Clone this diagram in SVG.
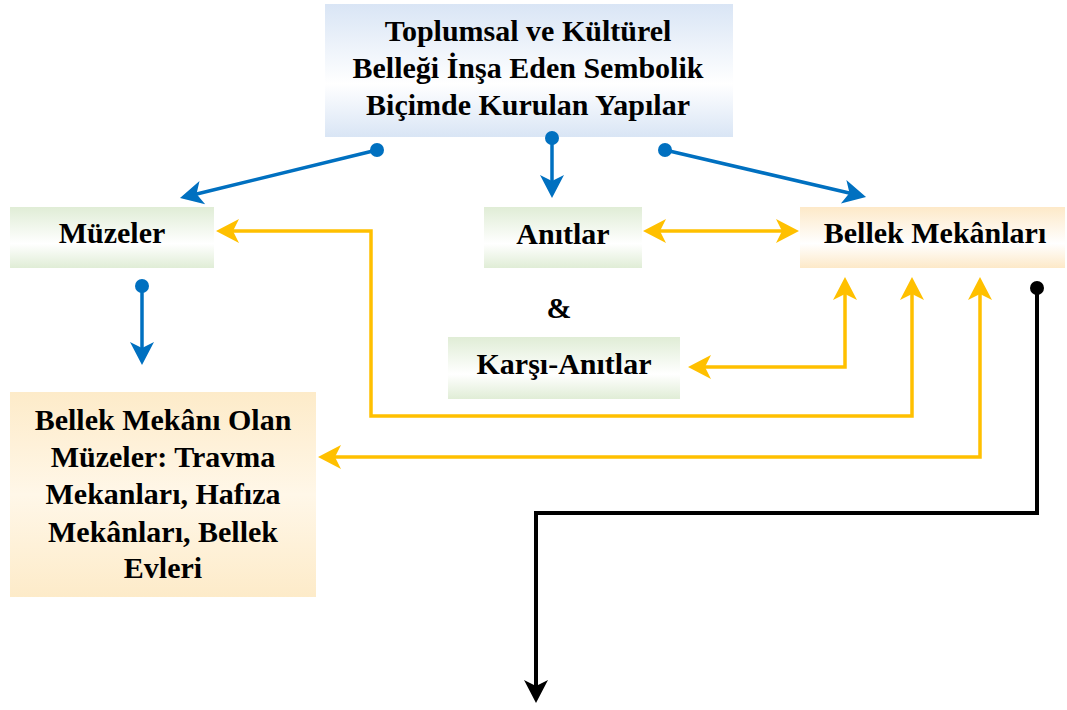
<svg xmlns="http://www.w3.org/2000/svg" width="1067" height="710" viewBox="0 0 1067 710">
<style>
text{font-family:"Liberation Serif","Times New Roman",serif;font-weight:bold;font-size:30px;fill:#000;text-anchor:middle}
.blue{stroke:#0070c0;stroke-width:3.5;fill:none}
.yel{stroke:#ffc000;stroke-width:3.5;fill:none}
.blk{stroke:#000;stroke-width:4;fill:none}
</style>
<defs>
<linearGradient id="gBlue" x1="0" y1="0" x2="0" y2="1">
<stop offset="0" stop-color="#d9e5f5"/><stop offset="0.6" stop-color="#ffffff"/><stop offset="1" stop-color="#d9e5f5"/>
</linearGradient>
<linearGradient id="gGreen" x1="0" y1="0" x2="0" y2="1">
<stop offset="0" stop-color="#e0edd6"/><stop offset="0.6" stop-color="#ffffff"/><stop offset="1" stop-color="#e0edd6"/>
</linearGradient>
<linearGradient id="gPeach" x1="0" y1="0" x2="0" y2="1">
<stop offset="0" stop-color="#fde9c8"/><stop offset="0.6" stop-color="#ffffff"/><stop offset="1" stop-color="#fde9c8"/>
</linearGradient>
<linearGradient id="gPeach2" x1="0" y1="0" x2="0" y2="1">
<stop offset="0" stop-color="#fdebc9"/><stop offset="0.5" stop-color="#fff7e8"/><stop offset="1" stop-color="#fdebc9"/>
</linearGradient>
<marker id="aBlue" markerUnits="userSpaceOnUse" orient="auto-start-reverse" refX="-14" refY="0" markerWidth="30" markerHeight="30" overflow="visible">
<path d="M0,0 L-23,-12 L-17,0 L-23,12 Z" fill="#0070c0"/>
</marker>
<marker id="aYel" markerUnits="userSpaceOnUse" orient="auto-start-reverse" refX="-14" refY="0" markerWidth="30" markerHeight="30" overflow="visible">
<path d="M0,0 L-23,-12 L-17,0 L-23,12 Z" fill="#ffc000"/>
</marker>
<marker id="aBlk" markerUnits="userSpaceOnUse" orient="auto-start-reverse" refX="-14" refY="0" markerWidth="30" markerHeight="30" overflow="visible">
<path d="M0,0 L-23,-12 L-17,0 L-23,12 Z" fill="#000"/>
</marker>
</defs>

<g id="top">
<rect x="325" y="4" width="408" height="133" fill="url(#gBlue)"/>
<text x="528" y="41">Toplumsal ve Kültürel</text>
<text x="528" y="78">Belleği İnşa Eden Sembolik</text>
<text x="528" y="115">Biçimde Kurulan Yapılar</text>
</g>
<g id="muzeler">
<rect x="10" y="207" width="204" height="61" fill="url(#gGreen)"/>
<text x="112" y="243">Müzeler</text>
</g>
<g id="anitlar">
<rect x="484" y="207" width="158" height="61" fill="url(#gGreen)"/>
<text x="563" y="244">Anıtlar</text>
</g>
<g id="amp">
<text x="559" y="318">&amp;</text>
</g>
<g id="karsi">
<rect x="448" y="337" width="232" height="62" fill="url(#gGreen)"/>
<text x="564" y="374">Karşı-Anıtlar</text>
</g>
<g id="bellek">
<rect x="800" y="207" width="265" height="61" fill="url(#gPeach)"/>
<text x="935" y="243">Bellek Mekânları</text>
</g>
<g id="bellekMuze">
<rect x="10" y="392" width="306" height="205" fill="url(#gPeach2)"/>
<text x="163" y="430">Bellek Mekânı Olan</text>
<text x="163" y="467">Müzeler: Travma</text>
<text x="163" y="504">Mekanları, Hafıza</text>
<text x="163" y="542">Mekânları, Bellek</text>
<text x="163" y="578">Evleri</text>
</g>

<g id="connectors">
<line class="blue" x1="377" y1="150" x2="193.6" y2="194.7" marker-end="url(#aBlue)"/>
<line class="blue" x1="552" y1="138" x2="552" y2="184" marker-end="url(#aBlue)"/>
<line class="blue" x1="665" y1="150" x2="852.4" y2="193.8" marker-end="url(#aBlue)"/>
<line class="blue" x1="142" y1="286" x2="142" y2="351" marker-end="url(#aBlue)"/>
<circle cx="377" cy="150" r="7" fill="#0070c0"/>
<circle cx="552" cy="138" r="7" fill="#0070c0"/>
<circle cx="665" cy="150" r="7" fill="#0070c0"/>
<circle cx="142" cy="286" r="7" fill="#0070c0"/>

<path class="yel" d="M230,231 H371 V416 H912 V291" marker-start="url(#aYel)" marker-end="url(#aYel)"/>
<path class="yel" d="M657,231 H785" marker-start="url(#aYel)" marker-end="url(#aYel)"/>
<path class="yel" d="M702,367 H845 V291" marker-start="url(#aYel)" marker-end="url(#aYel)"/>
<path class="yel" d="M332,457 H980 V291" marker-start="url(#aYel)" marker-end="url(#aYel)"/>

<path class="blk" d="M1037,288 V513 H536 V689" marker-end="url(#aBlk)"/>
<circle cx="1037" cy="288" r="7" fill="#000"/>
</g>
</svg>
